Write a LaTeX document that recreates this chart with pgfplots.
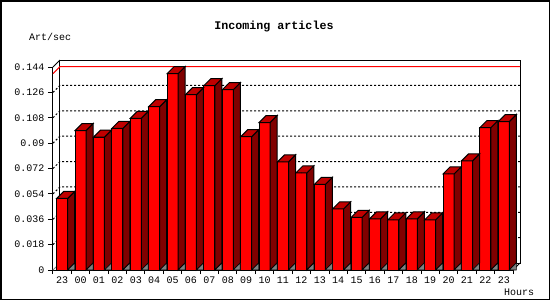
\documentclass[border=0pt]{standalone}
\usepackage{pgfplots}
\pgfplotsset{compat=1.18}
\usepackage{pgfplotstable}
\usepackage{fontspec}
\setmainfont{Liberation Mono}
\definecolor{barfront}{RGB}{255,0,0}
\definecolor{bartop}{RGB}{192,0,0}
\definecolor{barside}{RGB}{128,0,0}
\definecolor{floorgrey}{RGB}{128,128,128}

\pgfplotstableread{
x v
0 0.0508
1 0.0989
2 0.0942
3 0.1005
4 0.1076
5 0.1159
6 0.1393
7 0.1244
8 0.1308
9 0.1279
10 0.0946
11 0.1046
12 0.0767
13 0.0689
14 0.0607
15 0.0434
16 0.0373
17 0.0363
18 0.0356
19 0.0363
20 0.0356
21 0.0682
22 0.0774
23 0.1010
24 0.1053
}\datatable

\begin{document}
\begin{tikzpicture}
\useasboundingbox (0pt,0pt) rectangle (550pt,-300pt);
\draw[line width=1.5pt] (0.75pt,-0.75pt) rectangle (549.25pt,-299.25pt);
\node[font=\bfseries\fontsize{11.67}{12}\selectfont, inner sep=0pt] at (274pt,-27pt) {Incoming articles};
\node[anchor=west, font=\fontsize{10}{10}\selectfont, inner sep=0pt] at (29pt,-37pt) {Art/sec};
\node[anchor=west, font=\fontsize{10}{10}\selectfont, inner sep=0pt] at (504pt,-292pt) {Hours};
\begin{axis}[
  at={(53pt,-270pt)}, anchor=south west,
  x=18.4pt, y=1409.7pt,
  xmin=-0.5, xmax=24.5, ymin=0, ymax=0.144,
  clip=false,
  axis x line*=bottom, axis y line*=left,
  axis line style={-, line width=1pt, black},
  xtick={0,...,24},
  xticklabels={23,00,01,02,03,04,05,06,07,08,09,10,11,12,13,14,15,16,17,18,19,20,21,22,23},
  minor xtick={-0.5,0.5,...,24.5},
  ytick={0,0.018,0.036,0.054,0.072,0.09,0.108,0.126,0.144},
  yticklabels={0,0.018,0.036,0.054,0.072,0.09,0.108,0.126,0.144},
  tick align=outside,
  major tick length=5pt,
  minor tick length=4pt,
  major x tick style={draw=none},
  tick style={black, line width=1pt},
  ticklabel style={font=\fontsize{10}{10}\selectfont},
  xticklabel style={yshift=1.5pt},
  scaled y ticks=false,
]
% back plane
\draw[black, line width=1pt] ([shift={(7pt,7pt)}]axis cs:-0.5,0) rectangle ([shift={(7pt,7pt)}]axis cs:24.5,0.144);
\draw[black, line width=1pt] (axis cs:-0.5,0.144) -- ([shift={(7pt,7pt)}]axis cs:-0.5,0.144);
\draw[black, line width=1pt] (axis cs:24.5,0) -- ([shift={(7pt,7pt)}]axis cs:24.5,0);
\draw[floorgrey, line width=1pt] (axis cs:-0.5,0) -- ([shift={(7pt,7pt)}]axis cs:-0.5,0);
\pgfplotsinvokeforeach{0.018,0.036,0.054,0.072,0.09,0.108,0.126}{
  \draw[black, line width=1pt, dash pattern=on 2pt off 2pt] (axis cs:-0.5,#1) -- ([shift={(7pt,7pt)}]axis cs:-0.5,#1) -- ([shift={(7pt,7pt)}]axis cs:24.5,#1);
}
% max line
\draw[red, line width=1pt] (axis cs:-0.5,0.1393) -- ([shift={(7pt,7pt)}]axis cs:-0.5,0.1393) -- ([shift={(7pt,7pt)}]axis cs:24.5,0.1393);

\addplot[ybar, bar width=11pt, fill=barfront, draw=black, line width=1pt] table[x=x,y=v]{\datatable};
\addplot[only marks, mark=*, mark size=0.01pt, mark options={draw=none, fill=none}, scatter,
  visualization depends on={rawy \as \vv},
  scatter/@pre marker code/.code={%
    \pgfmathsetmacro\hh{-\vv*1409.7}%
    \pgfmathsetmacro\hb{7-\vv*1409.7}%
    \fill[barside, draw=black, line width=1pt, line join=miter] (5.5pt,0pt) -- (12.5pt,7pt) -- (12.5pt,\hb pt) -- (5.5pt,\hh pt) -- cycle;
    \fill[floorgrey, draw=black, line width=0.6pt] (5.5pt,\hh pt) -- (12.5pt,\hb pt) -- (12.5pt,\hh pt) -- cycle;
    \fill[bartop, draw=black, line width=1pt, line join=miter] (-5.5pt,0pt) -- (5.5pt,0pt) -- (12.5pt,7pt) -- (1.5pt,7pt) -- cycle;
  },
  scatter/@post marker code/.code={},
] table[x=x,y=v]{\datatable};
\end{axis}
\end{tikzpicture}
\end{document}
